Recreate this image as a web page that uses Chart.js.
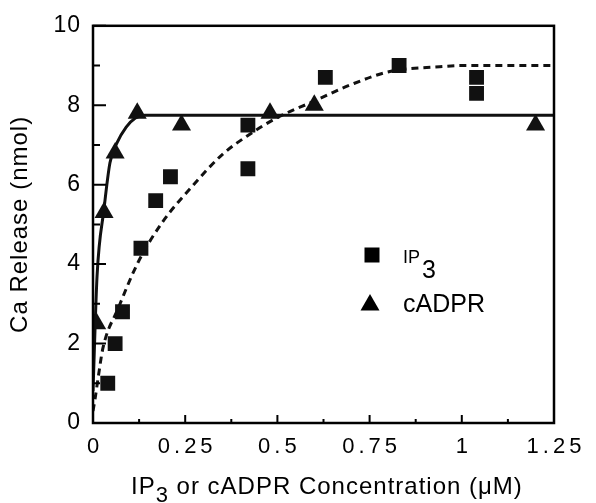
<!DOCTYPE html>
<html>
<head>
<meta charset="utf-8">
<script src="https://cdn.jsdelivr.net/npm/chart.js@4/dist/chart.umd.min.js"></script>
<style>
  html, body { margin: 0; padding: 0; background: #fff; }
  #wrap { width: 596px; height: 503px; }
</style>
</head>
<body>
<div id="wrap"><canvas id="grafico" width="596" height="503"></canvas></div>
<script>
// datos
const ip3X = [0.04, 0.06, 0.08, 0.13, 0.17, 0.21, 0.42, 0.42, 0.63, 0.83, 1.04, 1.04];
const ip3Y = [1.0, 2.0, 2.8, 4.4, 5.6, 6.2, 6.4, 7.5, 8.7, 9.0, 8.7, 8.3];
const cadprX = [0.01, 0.03, 0.06, 0.12, 0.24, 0.48, 0.6, 1.2];
const cadprY = [2.5, 5.3, 6.8, 7.8, 7.5, 7.8, 8.0, 7.5];

// curvas de ajuste (leidas a mano)
const ip3FitX = [0, 0.005, 0.014, 0.027, 0.068, 0.122, 0.187, 0.268, 0.352, 0.417, 0.498, 0.596, 0.70, 0.805, 0.94, 1.0, 1.25];
const ip3FitY = [0.3, 0.57, 1.14, 1.89, 2.88, 4.04, 5.04, 5.95, 6.77, 7.22, 7.68, 8.09, 8.52, 8.85, 8.97, 9.0, 9.0];
const cadprFitX = [0, 0.011, 0.03, 0.046, 0.065, 0.09, 0.115, 0.14, 1.25];
const cadprFitY = [0.8, 3.7, 5.4, 6.55, 7.05, 7.45, 7.68, 7.75, 7.75];

const xTicks = [0, 0.25, 0.5, 0.75, 1, 1.25];
const xTickLabels = ['0', '0.25', '0.5', '0.75', '1', '1.25'];
const yTicks = [0, 2, 4, 6, 8, 10];

const fuente = '"Liberation Sans", Arial, sans-serif';

function puntos(xs, ys) {
  return xs.map((x, i) => ({ x: x, y: ys[i] }));
}

// marco, ticks hacia dentro, etiquetas x, titulo x y leyenda
const extras = {
  id: 'extras',
  beforeDraw(chart) {
    chart.ctx.letterSpacing = '1px';
  },
  afterDraw(chart) {
    const ctx = chart.ctx;
    const a = chart.chartArea;
    const sx = chart.scales.x;
    const sy = chart.scales.y;
    ctx.save();
    ctx.strokeStyle = '#000';
    ctx.lineWidth = 2.5;
    ctx.strokeRect(a.left, a.top, a.right - a.left, a.bottom - a.top);

    ctx.lineWidth = 2;
    ctx.beginPath();
    for (let v = 0; v <= 10; v++) {
      const py = sy.getPixelForValue(v);
      const largo = v % 2 === 0 ? 13 : 7;
      ctx.moveTo(a.left, py);
      ctx.lineTo(a.left + largo, py);
    }
    for (let v = 0; v <= 1.25 + 1e-9; v += 0.125) {
      const px = sx.getPixelForValue(v);
      const largo = Math.round(v * 8) % 2 === 0 ? 8 : 4;
      ctx.moveTo(px, a.bottom);
      ctx.lineTo(px, a.bottom - largo);
    }
    ctx.stroke();

    ctx.fillStyle = '#000';
    ctx.textBaseline = 'middle';
    ctx.textAlign = 'center';
    ctx.font = '22px ' + fuente;
    ctx.letterSpacing = '4px';
    xTicks.forEach((v, i) => {
      ctx.fillText(xTickLabels[i], sx.getPixelForValue(v) + 2, 447);
    });

    // titulo eje x con subindice
    ctx.letterSpacing = '1px';
    ctx.textAlign = 'left';
    ctx.textBaseline = 'alphabetic';
    ctx.font = '24px ' + fuente;
    let x = 131;
    const base = 494;
    ctx.fillText('IP', x, base);
    x += ctx.measureText('IP').width;
    ctx.font = '22px ' + fuente;
    ctx.fillText('3', x, base + 8);
    x += ctx.measureText('3').width;
    ctx.font = '24px ' + fuente;
    ctx.fillText(' or cADPR Concentration (\u03BCM)', x, base);

    // leyenda
    ctx.fillRect(372 - 7.5, 255 - 7.5, 15, 15);
    ctx.beginPath();
    ctx.moveTo(370, 305 - 11);
    ctx.lineTo(370 + 9.5, 305 + 5.5);
    ctx.lineTo(370 - 9.5, 305 + 5.5);
    ctx.closePath();
    ctx.fill();
    ctx.letterSpacing = '0px';
    ctx.font = '18px ' + fuente;
    ctx.fillText('IP', 403, 263);
    ctx.font = '25px ' + fuente;
    ctx.fillText('3', 422, 278);
    ctx.textBaseline = 'middle';
    ctx.fillText('cADPR', 403, 305);
    ctx.restore();
  }
};

new Chart(document.getElementById('grafico'), {
  type: 'scatter',
  data: {
    datasets: [
      {
        label: 'IP3',
        data: puntos(ip3X, ip3Y),
        pointStyle: 'rect',
        pointRadius: 10.5,
        pointHoverRadius: 10.5,
        backgroundColor: '#111',
        borderColor: '#111',
        borderWidth: 0,
        order: 1
      },
      {
        label: 'cADPR',
        data: puntos(cadprX, cadprY),
        pointStyle: 'triangle',
        pointRadius: 11,
        pointHoverRadius: 11,
        backgroundColor: '#111',
        borderColor: '#111',
        borderWidth: 0,
        order: 2
      },
      {
        label: 'ajuste IP3',
        data: puntos(ip3FitX, ip3FitY),
        showLine: true,
        pointRadius: 0,
        borderColor: '#111',
        borderWidth: 3,
        borderDash: [7, 5],
        cubicInterpolationMode: 'monotone',
        order: 3
      },
      {
        label: 'ajuste cADPR',
        data: puntos(cadprFitX, cadprFitY),
        showLine: true,
        pointRadius: 0,
        borderColor: '#111',
        borderWidth: 3,
        cubicInterpolationMode: 'monotone',
        order: 4
      }
    ]
  },
  options: {
    responsive: false,
    animation: false,
    layout: { padding: { top: 20, right: 42, left: 0, bottom: 0 } },
    plugins: { legend: { display: false }, tooltip: { enabled: false } },
    scales: {
      x: {
        type: 'linear',
        min: 0,
        max: 1.25,
        grid: { display: false, drawTicks: false },
        border: { display: false },
        ticks: { display: false },
        afterFit(scale) { scale.height = 80; }
      },
      y: {
        min: 0,
        max: 10,
        grid: { display: false, drawTicks: false },
        border: { display: false },
        afterBuildTicks(scale) { scale.ticks = yTicks.map(v => ({ value: v })); },
        ticks: { color: '#000', padding: 12, font: { family: fuente, size: 23 } },
        title: {
          display: true,
          text: 'Ca Release (nmol)',
          color: '#000',
          padding: { top: 6, bottom: 0 },
          font: { family: fuente, size: 24 }
        },
        afterFit(scale) { scale.width = 93; }
      }
    }
  },
  plugins: [extras]
});
</script>
</body>
</html>
